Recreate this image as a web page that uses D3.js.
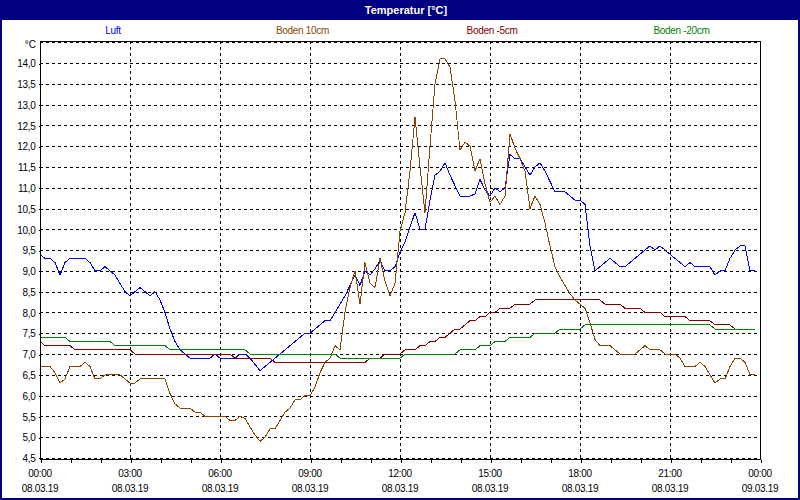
<!DOCTYPE html>
<html>
<head>
<meta charset="utf-8">
<script src="https://cdn.jsdelivr.net/npm/d3@7"></script>
<style>
  body { margin: 0; background: #fff; }
  svg { display: block; font-family: "Liberation Sans", Arial, sans-serif; }
</style>
</head>
<body>
<div id="chart"></div>
<script>
const W = 800, H = 500;
const title = "Temperatur [°C]";
const unitLabel = "°C";
const seriesNames = ["Luft", "Boden 10cm", "Boden -5cm", "Boden -20cm"];
const seriesColors = ["#0000ff", "#8b4500", "#800000", "#008000"];

// one reading every 10 minutes, starting 08.03.19 00:00
const startTime = new Date(2019, 2, 8, 0, 0);
const endTime = new Date(2019, 2, 9, 0, 0);
const stepMinutes = 10;

const luft = [
  9.4, 9.3, 9.3, 9.2, 8.9, 9.2, 9.3, 9.3, 9.3, 9.3, 9.2, 9.0,
  9.0, 9.1, 9.0, 8.9, 8.7, 8.5, 8.4, 8.5, 8.6, 8.5, 8.4, 8.5,
  8.3, 8.0, 7.6, 7.3, 7.1, 7.0, 6.9, 6.9, 6.9, 6.9, 6.9, 7.0,
  6.9, 6.9, 6.9, 6.9, 7.0, 7.0, 6.9, 6.75, 6.6, 6.7, 6.8, 6.9,
  7.0, 7.1, 7.2, 7.3, 7.4, 7.5, 7.5, 7.6, 7.7, 7.8, 7.8, 8.0,
  8.2, 8.4, 8.65, 8.9, 8.65, 9.0, 8.9, 9.05, 9.25, 9.0, 9.0, 9.1,
  9.45, 9.7, 10.05, 10.4, 10.0, 10.0, 10.7, 11.3, 11.4, 11.6, 11.3, 11.05,
  10.8, 10.8, 10.8, 10.85, 11.2, 10.95, 10.8, 11.0, 10.9, 11.0, 11.8, 11.7,
  11.7, 11.5, 11.3, 11.5, 11.6, 11.4, 11.15, 10.9, 10.9, 10.9, 10.8, 10.7,
  10.7, 10.6, 9.6, 9.0, 9.1, 9.2, 9.3, 9.2, 9.1, 9.1, 9.2, 9.3,
  9.4, 9.5, 9.6, 9.5, 9.6, 9.5, 9.4, 9.3, 9.2, 9.1, 9.2, 9.1,
  9.1, 9.1, 9.1, 8.9, 9.0, 9.0, 9.3, 9.5, 9.6, 9.6, 9.0, 9.0
];

const boden10 = [
  6.7, 6.7, 6.7, 6.55, 6.3, 6.4, 6.7, 6.7, 6.7, 6.8, 6.7, 6.4,
  6.4, 6.5, 6.5, 6.5, 6.5, 6.4, 6.3, 6.3, 6.4, 6.4, 6.4, 6.4,
  6.4, 6.4, 6.05, 5.8, 5.7, 5.7, 5.7, 5.6, 5.6, 5.5, 5.5, 5.5,
  5.5, 5.5, 5.4, 5.4, 5.5, 5.45, 5.25, 5.05, 4.9, 5.0, 5.2, 5.2,
  5.4, 5.6, 5.7, 5.9, 5.9, 6.0, 6.0, 6.2, 6.55, 6.8, 6.9, 7.2,
  7.1, 8.0, 8.6, 9.0, 8.2, 9.2, 8.7, 8.6, 9.3, 8.75, 8.4, 8.7,
  9.95, 10.4, 11.4, 12.7, 11.5, 10.4, 12.0, 13.5, 14.1, 14.1, 13.9, 13.1,
  11.9, 12.1, 12.0, 11.4, 11.7, 11.1, 10.65, 10.8, 10.6, 10.8, 12.3, 11.95,
  11.7, 11.4, 10.5, 10.8, 10.6, 10.15, 9.6, 9.1, 8.85, 8.65, 8.45, 8.3,
  8.2, 8.1, 7.75, 7.35, 7.2, 7.2, 7.2, 7.1, 7.0, 7.0, 7.0, 7.0,
  7.1, 7.2, 7.1, 7.1, 7.1, 7.0, 7.0, 7.0, 6.9, 6.7, 6.7, 6.7,
  6.8, 6.7, 6.5, 6.3, 6.4, 6.4, 6.7, 6.9, 6.9, 6.8, 6.5, 6.5
];

const bodenMinus5 = [
  7.3, 7.2, 7.2, 7.2, 7.2, 7.2, 7.2, 7.1, 7.1, 7.1, 7.1, 7.1,
  7.1, 7.1, 7.1, 7.1, 7.1, 7.1, 7.1, 7.0, 7.0, 7.0, 7.0, 7.0,
  7.0, 7.0, 7.0, 7.0, 7.0, 7.0, 7.0, 7.0, 7.0, 7.0, 7.0, 7.0,
  7.0, 7.0, 7.0, 6.9, 6.9, 6.9, 6.9, 6.9, 6.9, 6.9, 6.9, 6.8,
  6.8, 6.8, 6.8, 6.8, 6.8, 6.8, 6.8, 6.8, 6.8, 6.8, 6.8, 6.8,
  6.8, 6.8, 6.8, 6.8, 6.8, 6.8, 6.9, 6.9, 6.9, 7.0, 7.0, 7.0,
  7.0, 7.1, 7.1, 7.1, 7.2, 7.2, 7.3, 7.3, 7.4, 7.4, 7.5, 7.6,
  7.6, 7.7, 7.8, 7.8, 7.9, 7.9, 8.0, 8.0, 8.1, 8.1, 8.1, 8.2,
  8.2, 8.2, 8.2, 8.3, 8.3, 8.3, 8.3, 8.3, 8.3, 8.3, 8.3, 8.3,
  8.3, 8.3, 8.3, 8.3, 8.3, 8.2, 8.2, 8.2, 8.2, 8.1, 8.1, 8.1,
  8.1, 8.0, 8.0, 8.0, 8.0, 7.9, 7.9, 7.9, 7.9, 7.9, 7.8, 7.8,
  7.8, 7.8, 7.8, 7.7, 7.7, 7.7, 7.7, 7.6, 7.6, 7.6, 7.6, 7.6
];

const bodenMinus20 = [
  7.4, 7.4, 7.4, 7.4, 7.4, 7.4, 7.3, 7.3, 7.3, 7.3, 7.3, 7.3,
  7.3, 7.3, 7.3, 7.2, 7.2, 7.2, 7.2, 7.2, 7.2, 7.2, 7.2, 7.2,
  7.2, 7.2, 7.1, 7.1, 7.1, 7.1, 7.1, 7.1, 7.1, 7.1, 7.1, 7.1,
  7.1, 7.1, 7.1, 7.1, 7.1, 7.1, 7.0, 7.0, 7.0, 7.0, 7.0, 7.0,
  7.0, 7.0, 7.0, 7.0, 7.0, 7.0, 7.0, 7.0, 7.0, 7.0, 7.0, 7.0,
  6.9, 6.9, 6.9, 6.9, 6.9, 6.9, 6.9, 6.9, 6.9, 6.9, 6.9, 6.9,
  6.9, 7.0, 7.0, 7.0, 7.0, 7.0, 7.0, 7.0, 7.0, 7.0, 7.0, 7.0,
  7.1, 7.1, 7.1, 7.1, 7.2, 7.2, 7.2, 7.3, 7.3, 7.3, 7.4, 7.4,
  7.4, 7.4, 7.4, 7.5, 7.5, 7.5, 7.5, 7.5, 7.6, 7.6, 7.6, 7.6,
  7.6, 7.7, 7.7, 7.7, 7.7, 7.7, 7.7, 7.7, 7.7, 7.7, 7.7, 7.7,
  7.7, 7.7, 7.7, 7.7, 7.7, 7.7, 7.7, 7.7, 7.7, 7.7, 7.7, 7.7,
  7.7, 7.7, 7.7, 7.6, 7.6, 7.6, 7.6, 7.6, 7.6, 7.6, 7.6, 7.6
];

const yTicks = [4.5, 5.0, 5.5, 6.0, 6.5, 7.0, 7.5, 8.0, 8.5, 9.0, 9.5, 10.0,
                10.5, 11.0, 11.5, 12.0, 12.5, 13.0, 13.5, 14.0];
const yGridTop = 14.5;

const allSeries = [luft, boden10, bodenMinus5, bodenMinus20];

const margin = { left: 40, right: 40, top: 41, bottom: 40 };
const plotW = W - margin.left - margin.right;
const plotH = H - margin.top - margin.bottom;

const svg = d3.select("#chart").append("svg")
  .attr("width", W)
  .attr("height", H);

svg.append("rect")
  .attr("width", W).attr("height", H)
  .attr("fill", "#fff");

// title bar
svg.append("rect")
  .attr("x", 0).attr("y", 0)
  .attr("width", W).attr("height", 20)
  .attr("fill", "#000080");
svg.append("text")
  .attr("x", 406).attr("y", 14)
  .attr("text-anchor", "middle")
  .attr("fill", "#fff")
  .attr("font-size", 11)
  .attr("font-weight", "bold")
  .text(title);

// outer frame
svg.append("rect")
  .attr("x", 1).attr("y", 1)
  .attr("width", W - 2).attr("height", H - 2)
  .attr("fill", "none")
  .attr("stroke", "#000080")
  .attr("stroke-width", 2);

// legend
svg.append("g").selectAll("text")
  .data(seriesNames)
  .enter()
  .append("text")
  .attr("x", (d, i) => 113 + i * 189.5)
  .attr("y", 34)
  .attr("text-anchor", "middle")
  .attr("font-size", 10)
  .attr("letter-spacing", -0.3)
  .attr("fill", (d, i) => seriesColors[i])
  .text(d => d);

const x = d3.scaleTime()
  .domain([startTime, endTime])
  .range([margin.left, margin.left + plotW]);
const y = d3.scaleLinear()
  .domain([4.45, 14.53])
  .range([margin.top + plotH, margin.top]);

const timeAt = i => new Date(startTime.getTime() + i * stepMinutes * 60000);
const px = v => Math.round(v) + 0.5;

const plot = svg.append("g");

// horizontal grid
plot.append("g").selectAll("line")
  .data(yTicks.concat([yGridTop]))
  .enter()
  .append("line")
  .attr("x1", margin.left).attr("x2", margin.left + plotW)
  .attr("y1", d => px(y(d))).attr("y2", d => px(y(d)))
  .attr("stroke", "#000")
  .attr("stroke-dasharray", "3,3")
  .attr("shape-rendering", "crispEdges");

// vertical grid every 3 hours
const labelTimes = x.ticks(d3.timeHour.every(3));
plot.append("g").selectAll("line")
  .data(labelTimes.slice(1, -1))
  .enter()
  .append("line")
  .attr("x1", d => px(x(d))).attr("x2", d => px(x(d)))
  .attr("y1", margin.top).attr("y2", margin.top + plotH)
  .attr("stroke", "#000")
  .attr("stroke-dasharray", "3,3")
  .attr("shape-rendering", "crispEdges");

// series
const line = d3.line()
  .x((d, i) => x(timeAt(i)))
  .y(d => y(d));

plot.append("g").selectAll("path")
  .data(allSeries)
  .enter()
  .append("path")
  .attr("d", line)
  .attr("fill", "none")
  .attr("stroke", (d, i) => seriesColors[i])
  .attr("stroke-width", 1)
  .attr("shape-rendering", "crispEdges");

// plot frame
svg.append("rect")
  .attr("x", margin.left + 0.5).attr("y", margin.top + 0.5)
  .attr("width", plotW).attr("height", plotH - 1)
  .attr("fill", "none")
  .attr("stroke", "#000")
  .attr("shape-rendering", "crispEdges");

// x axis: hourly ticks, labels every 3 hours
const xAxis = d3.axisBottom(x)
  .ticks(d3.timeHour.every(1))
  .tickSize(3)
  .tickFormat("");
const gx = svg.append("g")
  .attr("transform", `translate(0.5,${margin.top + plotH - 0.5})`)
  .call(xAxis);
gx.select(".domain").remove();
gx.selectAll("line").attr("stroke", "#000").attr("shape-rendering", "crispEdges");

const fmtTime = d3.timeFormat("%H:%M");
const fmtDate = d3.timeFormat("%d.%m.%y");
const xl = svg.append("g").selectAll("text")
  .data(labelTimes)
  .enter()
  .append("text")
  .attr("text-anchor", "middle")
  .attr("font-size", 10)
  .attr("letter-spacing", -0.3)
  .attr("fill", "#000");
xl.append("tspan").attr("x", d => x(d)).attr("y", 477).text(fmtTime);
xl.append("tspan").attr("x", d => x(d)).attr("y", 492).text(fmtDate);

// y axis
const yAxis = d3.axisLeft(y)
  .tickValues(yTicks)
  .tickSize(2)
  .tickPadding(3)
  .tickFormat(d => d.toFixed(1).replace(".", ","));
const gy = svg.append("g")
  .attr("transform", `translate(${margin.left + 0.5},0.5)`)
  .call(yAxis);
gy.select(".domain").remove();
gy.selectAll("line").attr("stroke", "#000").attr("shape-rendering", "crispEdges");
gy.selectAll("text")
  .attr("font-family", "Liberation Sans, Arial, sans-serif")
  .attr("font-size", 10)
  .attr("letter-spacing", -0.3)
  .attr("fill", "#000");

svg.append("text")
  .attr("x", 36).attr("y", 48)
  .attr("text-anchor", "end")
  .attr("font-size", 10)
  .attr("fill", "#000")
  .text(unitLabel);
</script>
</body>
</html>
